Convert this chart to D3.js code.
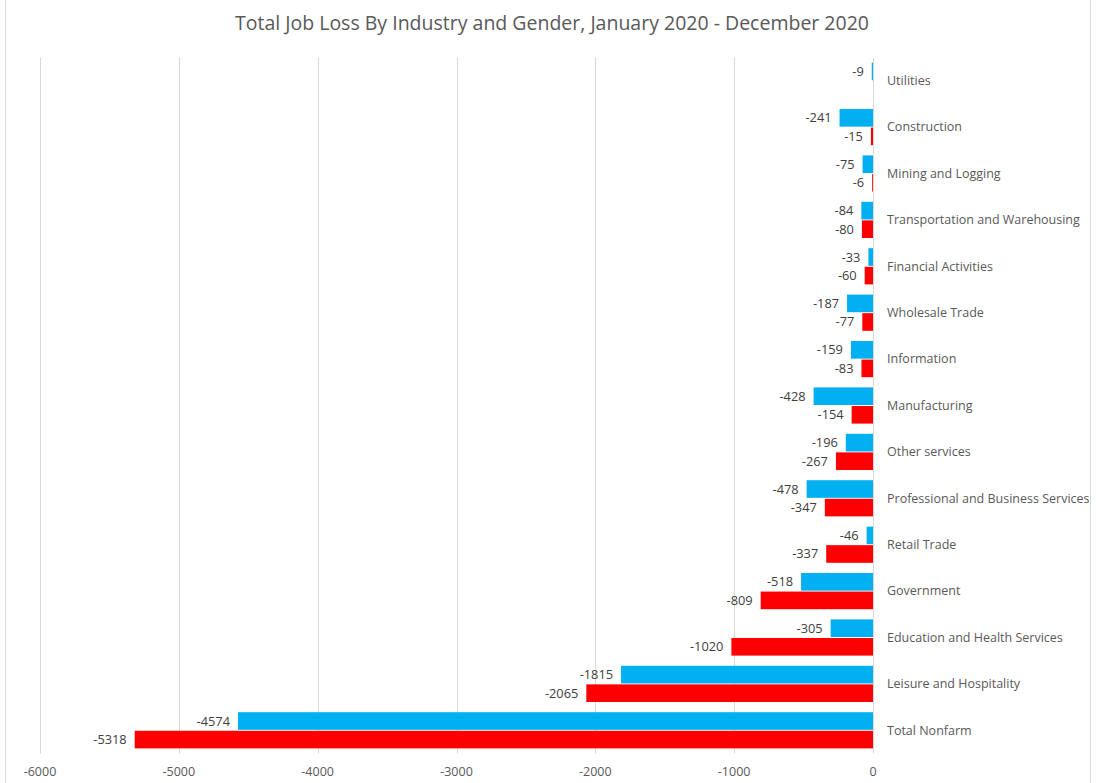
<!DOCTYPE html>
<html>
<head>
<meta charset="utf-8">
<script src="https://cdn.jsdelivr.net/npm/d3@7"></script>
<style>
  body { margin: 0; background: #fff; }
  svg { display: block; font-family: "Open Sans", "Liberation Sans", sans-serif; }
</style>
</head>
<body>
<div id="chart"></div>
<script>
// data (thousands of jobs)
const industries = [
    'Utilities', 'Construction', 'Mining and Logging', 'Transportation and Warehousing',
    'Financial Activities', 'Wholesale Trade', 'Information', 'Manufacturing',
    'Other services', 'Professional and Business Services', 'Retail Trade', 'Government',
    'Education and Health Services', 'Leisure and Hospitality', 'Total Nonfarm'
];
const menLoss = [-9, -241, -75, -84, -33, -187, -159, -428, -196, -478, -46, -518, -305, -1815, -4574];
const womenLoss = [null, -15, -6, -80, -60, -77, -83, -154, -267, -347, -337, -809, -1020, -2065, -5318];
const xTicks = [-6000, -5000, -4000, -3000, -2000, -1000, 0];

const series = [
    { name: 'Men', color: '#00B0F0', values: menLoss },
    { name: 'Women', color: '#FF0000', values: womenLoss }
];

const renderChart = () => {
    const width = 1096;
    const height = 783;
    const margin = { top: 57.5, right: 223, bottom: 29.5, left: 40 };

    const svg = d3.select('#chart').append('svg')
        .attr('width', width)
        .attr('height', height);

    // chart frame
    svg.append('rect')
        .attr('x', 5.5).attr('y', -1)
        .attr('width', width - 11).attr('height', height + 2)
        .attr('fill', 'none')
        .attr('stroke', '#d9d9d9');

    svg.append('text')
        .attr('x', 552)
        .attr('y', 30)
        .attr('text-anchor', 'middle')
        .attr('fill', '#595959')
        .attr('font-size', 19.5)
        .text('Total Job Loss By Industry and Gender, January 2020 - December 2020');

    const x = d3.scaleLinear()
        .domain([-6000, 0])
        .range([margin.left, width - margin.right]);

    const y = d3.scaleBand()
        .domain(industries)
        .range([margin.top, height - margin.bottom])
        .paddingInner(0.22)
        .paddingOuter(0.11);

    const sub = d3.scaleBand()
        .domain(series.map(s => s.name))
        .range([0, y.bandwidth()])
        .paddingInner(0.05);

    // vertical gridlines
    svg.append('g')
        .selectAll('line')
        .data(xTicks.filter(t => t !== 0))
        .enter().append('line')
        .attr('x1', d => Math.round(x(d)) + 0.5)
        .attr('x2', d => Math.round(x(d)) + 0.5)
        .attr('y1', margin.top)
        .attr('y2', height - margin.bottom)
        .attr('stroke', '#d9d9d9');

    // tick labels
    svg.append('g')
        .selectAll('text')
        .data(xTicks)
        .enter().append('text')
        .attr('x', d => x(d))
        .attr('y', 776)
        .attr('text-anchor', 'middle')
        .attr('fill', '#595959')
        .attr('font-size', 12.5)
        .text(d => d);

    const groups = svg.append('g')
        .selectAll('g')
        .data(series)
        .enter().append('g')
        .attr('fill', d => d.color);

    const bars = groups.selectAll('rect')
        .data(s => s.values.map((v, i) => ({ name: s.name, industry: industries[i], value: v })).filter(d => d.value !== null))
        .enter();

    bars.append('rect')
        .attr('x', d => x(d.value))
        .attr('y', d => y(d.industry) + sub(d.name))
        .attr('width', d => x(0) - x(d.value))
        .attr('height', sub.bandwidth());

    // data labels sit just left of the bar end
    bars.append('text')
        .attr('x', d => x(d.value) - 8)
        .attr('y', d => y(d.industry) + sub(d.name) + sub.bandwidth() / 2)
        .attr('dy', '0.35em')
        .attr('text-anchor', 'end')
        .attr('fill', '#404040')
        .attr('font-size', 12.8)
        .text(d => d.value);

    // zero axis line
    svg.append('line')
        .attr('x1', Math.round(x(0)) + 0.5)
        .attr('x2', Math.round(x(0)) + 0.5)
        .attr('y1', margin.top)
        .attr('y2', height - margin.bottom)
        .attr('stroke', '#d9d9d9');

    // category labels
    svg.append('g')
        .selectAll('text')
        .data(industries)
        .enter().append('text')
        .attr('x', x(0) + 14)
        .attr('y', d => y(d) + y.bandwidth() / 2)
        .attr('dy', '0.35em')
        .attr('fill', '#595959')
        .attr('font-size', 12.5)
        .text(d => d);
}

renderChart();
</script>
</body>
</html>
